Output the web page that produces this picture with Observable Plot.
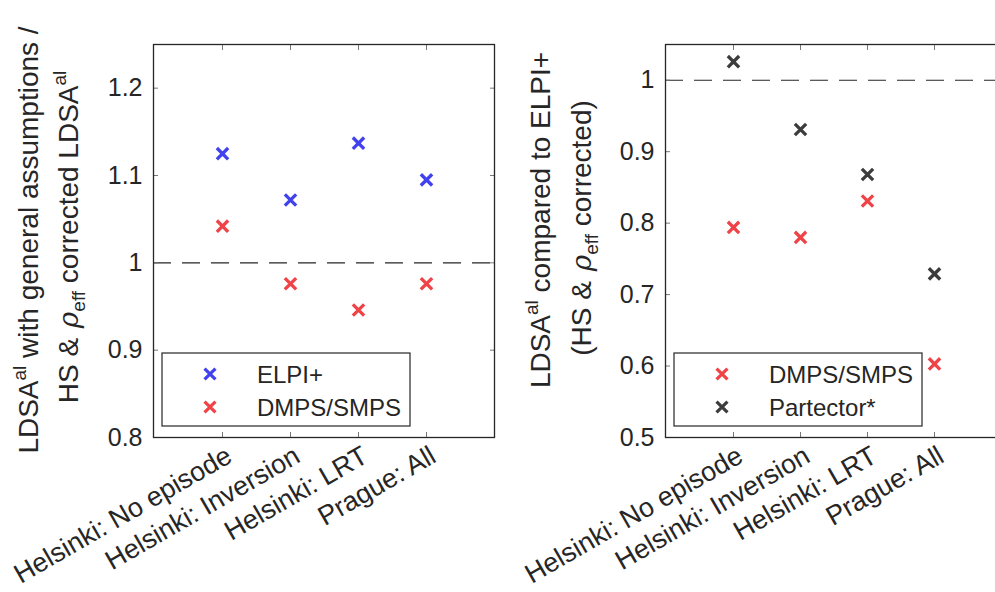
<!DOCTYPE html>
<html><head><meta charset="utf-8">
<script src="https://cdn.jsdelivr.net/npm/d3@7"></script>
<script src="https://cdn.jsdelivr.net/npm/@observablehq/plot@0.6"></script>
<style>
html,body{margin:0;padding:0;background:#fff;overflow:hidden;}
#wrap{position:relative;width:995px;height:592px;overflow:hidden;background:#fff;}
#left,#right{position:absolute;top:0;}
#left{left:0;width:500px;} #right{left:500px;width:510px;}
svg{overflow:visible;max-width:none !important;}
</style></head><body>
<div id="wrap"><div id="left"></div><div id="right"></div></div>
<script>
// ---- data ----
const categories = ["Helsinki: No episode", "Helsinki: Inversion", "Helsinki: LRT", "Prague: All"];
const elpiLeft = [1.125, 1.072, 1.137, 1.095];
const dmpsLeft = [1.042, 0.976, 0.946, 0.976];
const dmpsRight = [0.794, 0.780, 0.831, 0.603];
const partectorRight = [1.026, 0.931, 0.868, 0.729];
const leftTicks = [0.8, 0.9, 1, 1.1, 1.2];
const rightTicks = [0.5, 0.6, 0.7, 0.8, 0.9, 1];
const leftDomain = [0.8, 1.25];
const rightDomain = [0.5, 1.05];
const refLine = [1];
const seriesLeft = ["ELPI+", "DMPS/SMPS"];
const seriesRight = ["DMPS/SMPS", "Partector*"];
const colorsLeft = ["#4141ee", "#ef4348"];
const colorsRight = ["#ef4348", "#3c3c3c"];

function rows(names, arrays) {
  const out = [];
  names.forEach((n, i) => arrays[i].forEach((v, j) => out.push({category: categories[j], value: v, series: n})));
  return out;
}

const FONT = "'Liberation Sans', Arial, Helvetica, sans-serif";
const INK = "#262626";

function addLabel(svg, lines, xs, ys) {
  lines.forEach((segs, i) => {
    const t = svg.append("text")
      .attr("transform", `translate(${xs[i]},${ys[i]}) rotate(-90)`)
      .attr("text-anchor", "middle")
      .attr("font-family", FONT)
      .attr("font-size", 28)
      .attr("fill", INK);
    let shift = 0;
    segs.forEach(s => {
      const sp = t.append("tspan").text(s.t);
      let target = 0;
      if (s.sup) { target = -12; sp.attr("font-size", 19); }
      if (s.sub) { target = 7; sp.attr("font-size", 19); }
      if (s.italic) sp.attr("font-style", "italic").attr("font-family", "'DejaVu Serif', serif").attr("dx", 2);
      sp.attr("dy", target - shift);
      shift = target;
    });
  });
}

function addLegend(svg, fx, names, colors) {
  const g = svg.append("g").attr("text-anchor", "start");
  g.append("rect").attr("x", fx + 9).attr("y", 353).attr("width", 248).attr("height", 73)
    .attr("fill", "#fff").attr("stroke", INK).attr("stroke-width", 1.2);
  names.forEach((n, i) => {
    const cy = 374 + i * 33;
    g.append("path").attr("d", d3.symbol(d3.symbolTimes, 80)())
      .attr("transform", `translate(${fx + 57},${cy})`)
      .attr("stroke", colors[i]).attr("stroke-width", 3.2).attr("fill", "none");
    g.append("text").attr("x", fx + 104).attr("y", cy).attr("dy", "0.36em")
      .attr("text-anchor", "start")
      .attr("font-family", FONT).attr("font-size", 24).attr("fill", INK).text(n);
  });
}

function panel(el, o) {
  const chart = Plot.plot({
    width: o.width, height: 592,
    marginLeft: o.marginLeft, marginRight: o.marginRight, marginTop: 44, marginBottom: 155,
    style: {fontFamily: FONT, color: INK, background: "transparent", overflow: "visible", maxWidth: "none"},
    x: {type: "point", domain: categories, padding: 1},
    y: {domain: o.yDomain},
    color: {domain: o.names, range: o.colors},
    marks: [
      Plot.ruleY(refLine, {stroke: INK, strokeWidth: 1.2, strokeDasharray: "18,11"}),
      Plot.axisY(o.yTicks, {tickSize: 0, tickPadding: 11, fontSize: 25, tickFormat: d => String(d), label: null}),
      Plot.axisY(o.yTicks, {tickSize: -5, tickFormat: () => "", label: null, stroke: "#777"}),
      Plot.axisY(o.yTicks, {anchor: "right", tickSize: -5, tickFormat: () => "", label: null, stroke: "#777"}),
      Plot.axisX({tickSize: 0, tickRotate: -30, tickPadding: 16, dx: 7, fontSize: 27, label: null}),
      Plot.axisX({tickSize: -5, tickFormat: () => "", label: null, stroke: "#777"}),
      Plot.axisX({anchor: "top", tickSize: -5, tickFormat: () => "", label: null, stroke: "#777"}),
      Plot.frame({stroke: INK, strokeWidth: 1.3}),
      Plot.dot(o.data, {x: "category", y: "value", stroke: "series", symbol: "times", r: 5.2, strokeWidth: 3.3})
    ]
  });
  el.appendChild(chart);
  const svg = d3.select(chart);
  addLabel(svg, o.label, o.labelX, o.labelY);
  addLegend(svg, o.marginLeft, o.names, o.colors);
}

panel(document.getElementById("left"), {
  width: 500, marginLeft: 153, marginRight: 6,
  yDomain: leftDomain, yTicks: leftTicks,
  data: rows(seriesLeft, [elpiLeft, dmpsLeft]),
  names: seriesLeft, colors: colorsLeft,
  label: [
    [{t: "LDSA"}, {t: "al", sup: true}, {t: " with general assumptions /"}],
    [{t: "HS & "}, {t: "ρ", italic: true}, {t: "eff", sub: true}, {t: " corrected LDSA"}, {t: "al", sup: true}]
  ],
  labelX: [38, 78], labelY: [240, 237]
});

panel(document.getElementById("right"), {
  width: 510, marginLeft: 165, marginRight: 8,
  yDomain: rightDomain, yTicks: rightTicks,
  data: rows(seriesRight, [dmpsRight, partectorRight]),
  names: seriesRight, colors: colorsRight,
  label: [
    [{t: "LDSA"}, {t: "al", sup: true}, {t: " compared to ELPI+"}],
    [{t: "(HS & "}, {t: "ρ", italic: true}, {t: "eff", sub: true}, {t: " corrected)"}]
  ],
  labelX: [50, 91], labelY: [220, 228]
});
</script>
</body></html>
